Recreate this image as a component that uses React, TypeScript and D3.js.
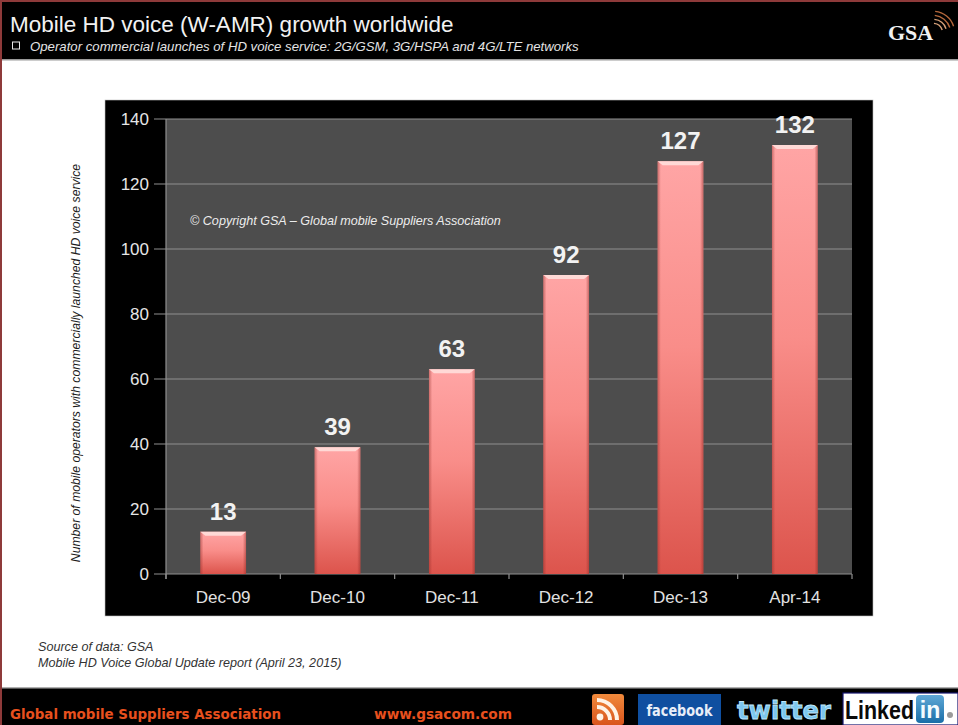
import React from "react";
import * as d3 from "d3";

const categories = ["Dec-09", "Dec-10", "Dec-11", "Dec-12", "Dec-13", "Apr-14"];
const launches = [13, 39, 63, 92, 127, 132];
const yTicks = [0, 20, 40, 60, 80, 100, 120, 140];

const W = 958;
const H = 725;
const SANS = "Liberation Sans, Arial, sans-serif";

const x = d3.scaleBand<string>().domain(categories).range([166, 852]).paddingInner(0.6).paddingOuter(0.3);
const y = d3.scaleLinear().domain([0, 140]).range([574, 119]);
const tickEdges = d3.range(categories.length + 1).map((i) => 166 + (i * (852 - 166)) / categories.length);

// Dome-shaped arcs for the logo mark
const arc = d3.arc();
const gsaArcs = [9, 13, 17, 21];
const rssArcs = [11, 18];

export default function App() {
  return (
    <svg width={W} height={H} viewBox={`0 0 ${W} ${H}`} style={{ position: "fixed", left: 0, top: 0, display: "block" }} fontFamily={SANS}>
      <defs>
        <linearGradient id="barFill" x1="0" y1="0" x2="0" y2="1">
          <stop offset="0" stopColor="#ffa5a5" />
          <stop offset="0.45" stopColor="#f98d89" />
          <stop offset="1" stopColor="#dc544c" />
        </linearGradient>
        <linearGradient id="barEdge" x1="0" y1="0" x2="1" y2="0">
          <stop offset="0" stopColor="#8f2a26" stopOpacity="0.45" />
          <stop offset="0.07" stopColor="#8f2a26" stopOpacity="0" />
          <stop offset="0.93" stopColor="#8f2a26" stopOpacity="0" />
          <stop offset="1" stopColor="#8f2a26" stopOpacity="0.5" />
        </linearGradient>
        <linearGradient id="rssFill" x1="0" y1="0" x2="0" y2="1">
          <stop offset="0" stopColor="#f08a3c" />
          <stop offset="1" stopColor="#d9541c" />
        </linearGradient>
        <linearGradient id="inFill" x1="0" y1="0" x2="0" y2="1">
          <stop offset="0" stopColor="#5fa8d6" />
          <stop offset="1" stopColor="#1a6ea8" />
        </linearGradient>
      </defs>

      <rect width={W} height={H} fill="#ffffff" />
      <rect x={0} y={0} width={2} height={H} fill="#8e3a3a" />
      <rect x={0} y={0} width={W} height={2} fill="#8e3a3a" />

      {/* Header band */}
      <rect x={2} y={2} width={W - 2} height={57} fill="#000000" />
      <rect x={2} y={59} width={W - 2} height={1.5} fill="#9a9a9a" />
      <text x={10} y={32} fill="#f2f2f2" fontSize={22.5}>Mobile HD voice (W-AMR) growth worldwide</text>
      <rect x={12.5} y={42} width={7} height={7} fill="none" stroke="#e8e8e8" strokeWidth={1} />
      <text x={30} y={51} fill="#e4e4e4" fontSize={13.2} fontStyle="italic">Operator commercial launches of HD voice service: 2G/GSM, 3G/HSPA and 4G/LTE networks</text>
      <text x={888} y={40} fill="#f0f0f0" fontSize={22} fontWeight={700} fontFamily="Liberation Serif, Georgia, serif">GSA</text>
      <g transform="translate(933,33)">
        {gsaArcs.map((r, i) => (
          <path
            key={r}
            d={arc({ innerRadius: r, outerRadius: r + 1.4, startAngle: 0.1, endAngle: 1.25 }) ?? ""}
            fill={i < 2 ? "#d8a27a" : "#b5683c"}
          />
        ))}
      </g>

      {/* Chart panel */}
      <rect x={105} y={100} width={768} height={516} fill="#000000" stroke="#bdbdbd" strokeWidth={0.6} />
      <rect x={x.range()[0]} y={y(140)} width={x.range()[1] - x.range()[0]} height={y(0) - y(140)} fill="#4d4d4d" />

      {yTicks.map((t) => (
        <g key={t}>
          <line x1={154} x2={852} y1={y(t)} y2={y(t)} stroke="#8f8f8f" strokeWidth={1.2} />
          <text x={149} y={y(t)} dy="0.36em" textAnchor="end" fill="#e6e6e6" fontSize={17}>{t}</text>
        </g>
      ))}
      <line x1={166} x2={166} y1={y(140)} y2={y(0) + 5} stroke="#8f8f8f" strokeWidth={1.2} />
      {tickEdges.map((tx) => (
        <line key={tx} x1={tx} x2={tx} y1={y(0)} y2={y(0) + 5} stroke="#8f8f8f" strokeWidth={1.2} />
      ))}

      <text x={190} y={225} fill="#ececec" fontSize={12.6} fontStyle="italic">© Copyright GSA – Global mobile Suppliers Association</text>

      {launches.map((v, i) => {
        const bx = x(categories[i]) as number;
        const bw = x.bandwidth();
        const by = y(v);
        const bh = y(0) - by;
        return (
          <g key={categories[i]}>
            <rect x={bx} y={by} width={bw} height={bh} fill="url(#barFill)" />
            <rect x={bx} y={by} width={bw} height={bh} fill="url(#barEdge)" />
            <path d={`M${bx},${by}H${bx + bw}L${bx + bw - 5},${by + 4}H${bx + 5}Z`} fill="#ffd9d6" />
            <text x={bx + bw / 2} y={by - 12} textAnchor="middle" fill="#f2f2f2" fontSize={24} fontWeight={700}>{v}</text>
            <text x={bx + bw / 2} y={603} textAnchor="middle" fill="#e2e2e2" fontSize={17}>{categories[i]}</text>
          </g>
        );
      })}

      <text transform="translate(80,363) rotate(-90)" textAnchor="middle" fill="#1c1c1c" fontSize={12.2} fontStyle="italic">
        Number of mobile operators with commercially launched HD voice service
      </text>

      {/* Source note */}
      <text x={38} y={651} fill="#333333" fontSize={12.6} fontStyle="italic">Source of data: GSA</text>
      <text x={38} y={667} fill="#333333" fontSize={12.6} fontStyle="italic">Mobile HD Voice Global Update report (April 23, 2015)</text>

      {/* Footer band */}
      <rect x={2} y={688} width={W - 2} height={37} fill="#000000" />
      <rect x={2} y={687} width={W - 2} height={1.5} fill="#b0b0b0" />
      <text x={10} y={719} fill="#e8501e" fontSize={14} fontWeight={700} fontFamily="DejaVu Sans, Verdana, sans-serif" textLength={271} lengthAdjust="spacingAndGlyphs">Global mobile Suppliers Association</text>
      <text x={374} y={719} fill="#e8501e" fontSize={14} fontWeight={700} fontFamily="DejaVu Sans, Verdana, sans-serif" textLength={138} lengthAdjust="spacingAndGlyphs">www.gsacom.com</text>

      {/* Social badges */}
      <rect x={592} y={694} width={32} height={31} rx={3} fill="url(#rssFill)" />
      <circle cx={600} cy={717} r={3.4} fill="#fff3e6" />
      <g transform="translate(597,720)">
        {rssArcs.map((r) => (
          <path key={r} d={arc({ innerRadius: r, outerRadius: r + 4, startAngle: 0, endAngle: Math.PI / 2 }) ?? ""} fill="#fff3e6" />
        ))}
      </g>
      <rect x={638} y={694} width={83} height={31} fill="#0f4fa0" />
      <text x={679.5} y={716} textAnchor="middle" fill="#e8eef8" fontSize={16.5} fontWeight={700} fontFamily="DejaVu Sans, Verdana, sans-serif" textLength={66} lengthAdjust="spacingAndGlyphs">facebook</text>
      <text x={784} y={719} textAnchor="middle" fill="#7cc6ee" stroke="#bfe6fa" strokeWidth={0.8} fontSize={25} fontWeight={700} fontFamily="DejaVu Sans, Verdana, sans-serif" textLength={94} lengthAdjust="spacingAndGlyphs">twitter</text>
      <rect x={843} y={693} width={115} height={32} fill="#ffffff" stroke="#14146e" strokeWidth={1.2} />
      <text x={845} y={719} fill="#0a0a0a" fontSize={25} fontWeight={700} textLength={69} lengthAdjust="spacingAndGlyphs">Linked</text>
      <rect x={916} y={695} width={28} height={28} rx={4} fill="url(#inFill)" />
      <text x={930} y={718} textAnchor="middle" fill="#f4fbff" fontSize={23} fontWeight={700}>in</text>
      <circle cx={950} cy={715} r={3} fill="#9a9a9a" />
    </svg>
  );
}
